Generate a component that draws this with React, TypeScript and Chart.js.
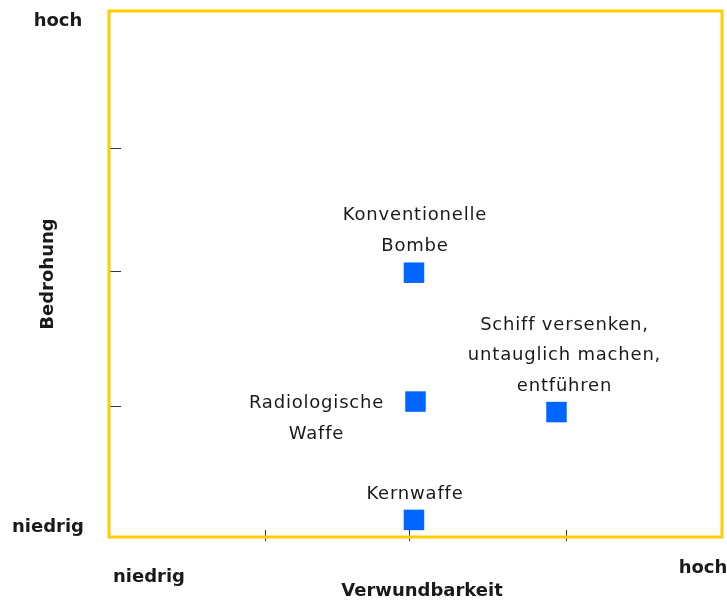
import React, { useEffect, useRef } from "react";
import { Chart, registerables } from "chart.js";

Chart.register(...registerables);

const categories = ["Konventionelle\nBombe", "Radiologische\nWaffe", "Schiff versenken,\nuntauglich machen,\nentführen", "Kernwaffe"];
const vulnerability = [1.99, 2.0, 2.92, 1.99];
const threat = [2.01, 1.03, 0.95, 0.13];
const xTickValues = [1.02, 1.96, 2.98];
const yTickValues = [1.0, 2.02, 2.96];
const xAxisLabels = ["niedrig", "hoch"];
const yAxisLabels = ["niedrig", "hoch"];
const xTitle = "Verwundbarkeit";
const yTitle = "Bedrohung";

// label placement relative to each point: [dx, dy of first line]
const labelOffsets = [
  [1, -57],
  [-99, 2],
  [8, -87],
  [1, -26],
];

const FONT = "'DejaVu Sans', sans-serif";

const decor = {
  id: "decor",
  afterDatasetsDraw(chart: any) {
    const { ctx, chartArea: a, scales } = chart;
    const xs = scales.x;
    const ys = scales.y;
    ctx.save();
    // tick marks
    ctx.strokeStyle = "#333";
    ctx.lineWidth = 1;
    xTickValues.forEach((v) => {
      const px = Math.round(xs.getPixelForValue(v)) + 0.5;
      ctx.beginPath();
      ctx.moveTo(px, a.bottom - 7);
      ctx.lineTo(px, a.bottom + 4);
      ctx.stroke();
    });
    yTickValues.forEach((v) => {
      const py = Math.round(ys.getPixelForValue(v)) + 0.5;
      ctx.beginPath();
      ctx.moveTo(a.left + 1, py);
      ctx.lineTo(a.left + 12, py);
      ctx.stroke();
    });
    // border
    ctx.strokeStyle = "#FFCC00";
    ctx.lineWidth = 3;
    ctx.strokeRect(a.left, a.top, a.right - a.left, a.bottom - a.top);

    // point labels
    ctx.fillStyle = "#1a1a1a";
    ctx.font = `18px ${FONT}`;
    (ctx as any).letterSpacing = "0.8px";
    ctx.textAlign = "center";
    ctx.textBaseline = "middle";
    categories.forEach((c, i) => {
      const px = xs.getPixelForValue(vulnerability[i]);
      const py = ys.getPixelForValue(threat[i]);
      const [dx, dy] = labelOffsets[i];
      c.split("\n").forEach((line, j) => {
        ctx.fillText(line, px + dx, py + dy + j * 30.5);
      });
    });

    // axis labels
    (ctx as any).letterSpacing = "0px";
    ctx.font = `bold 18px ${FONT}`;
    ctx.textAlign = "center";
    ctx.fillText(yAxisLabels[1], 58, a.top + 10);
    ctx.fillText(yAxisLabels[0], 48, a.bottom - 10);
    ctx.fillText(xAxisLabels[0], 149, a.bottom + 40);
    ctx.fillText(xAxisLabels[1], 703, a.bottom + 31);
    ctx.fillText(xTitle, 422, a.bottom + 54);
    ctx.save();
    ctx.translate(48, (a.top + a.bottom) / 2);
    ctx.rotate(-Math.PI / 2);
    ctx.fillText(yTitle, 0, 0);
    ctx.restore();
    ctx.restore();
  },
};

export default function App() {
  const ref = useRef<HTMLCanvasElement | null>(null);
  useEffect(() => {
    document.body.style.margin = "0";
    const chart = new Chart(ref.current!, {
      type: "scatter",
      data: {
        datasets: [
          {
            data: vulnerability.map((x, i) => ({ x, y: threat[i] })),
            backgroundColor: "#0066FF",
            borderWidth: 0,
            pointStyle: "rect",
            pointRadius: 14.5,
            pointHoverRadius: 14.5,
          },
        ],
      },
      options: {
        responsive: false,
        animation: false,
        layout: { autoPadding: false, padding: { left: 109, top: 11, right: 5, bottom: 66 } },
        plugins: { legend: { display: false }, tooltip: { enabled: false } },
        scales: {
          x: { type: "linear", min: 0, max: 4, display: false },
          y: { type: "linear", min: 0, max: 4, display: false },
        },
      },
      plugins: [decor],
    });
    return () => chart.destroy();
  }, []);
  return (
    <div style={{ width: 727, height: 603 }}>
      <canvas ref={ref} width={727} height={603} />
    </div>
  );
}
